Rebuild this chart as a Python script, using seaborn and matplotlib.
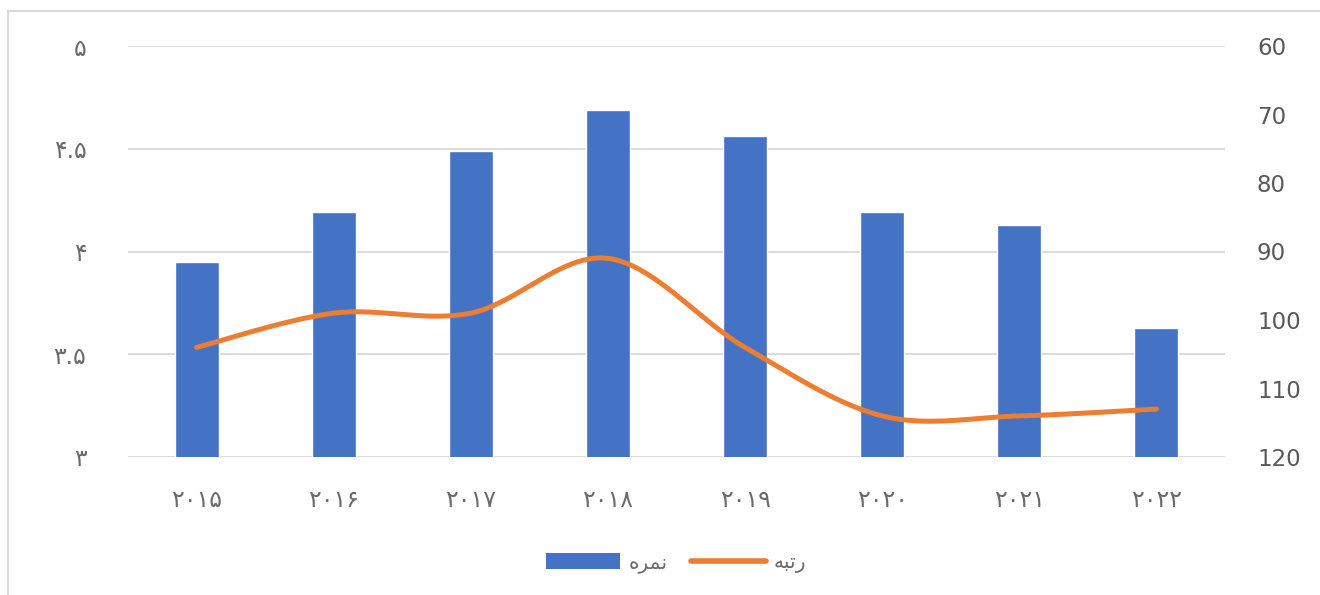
import numpy as np
import pandas as pd
import matplotlib
matplotlib.use("Agg")
import matplotlib.pyplot as plt
from matplotlib.patches import Rectangle, Patch
from matplotlib.lines import Line2D
import seaborn as sns

# ---- data ----
years = ["۲۰۱۵", "۲۰۱۶", "۲۰۱۷", "۲۰۱۸", "۲۰۱۹", "۲۰۲۰", "۲۰۲۱", "۲۰۲۲"]
score = [3.95, 4.19, 4.49, 4.69, 4.56, 4.19, 4.13, 3.63]
rank = [104, 99, 99, 91, 104, 114, 114, 113]

score_ticks = [3, 3.5, 4, 4.5, 5]
score_tick_labels = ["۳", "۳.۵", "۴", "۴.۵", "۵"]
rank_ticks = [60, 70, 80, 90, 100, 110, 120]
rank_tick_labels = ["60", "70", "80", "90", "100", "110", "120"]

# legend labels written in Arabic presentation forms (visual order)
label_score = "\uFEE9\uFEAE\uFEE4\uFEE7"   # نمره
label_rank = "\uFEEA\uFE92\uFE97\uFEAD"    # رتبه

BLUE = "#4472C4"
ORANGE = "#ED7D31"
GRID = "#D9D9D9"
TEXT = "#595959"
TEXT_LIGHT = "#6A6A6A"

sns.set_theme(style="white")
plt.rcParams["font.family"] = ["DejaVu Sans"]

W, H = 1320, 595
fig = plt.figure(figsize=(W / 100, H / 100), dpi=100)
ax = fig.add_axes([128 / W, 1 - 457 / H, (1225 - 128) / W, (457 - 46) / H])

df = pd.DataFrame({"year": years, "score": score})
sns.barplot(data=df, x="year", y="score", color=BLUE, saturation=1,
            width=0.32, errorbar=None, ax=ax, zorder=2)

ax.set_xlim(-0.5, len(years) - 0.5)
ax.set_ylim(score_ticks[0], score_ticks[-1])
ax.set_yticks(score_ticks)
ax.set_yticklabels(score_tick_labels)
ax.set_axisbelow(True)
ax.grid(axis="y", color=GRID, lw=1.3)
ax.grid(axis="x", visible=False)
ax.set_xlabel("")
ax.set_ylabel("")
for s in ax.spines.values():
    s.set_visible(False)
ax.tick_params(axis="y", length=0, pad=30, labelsize=17, labelcolor=TEXT_LIGHT)
ax.tick_params(axis="x", length=0, pad=22, labelsize=17, labelcolor=TEXT_LIGHT)


def smooth_curve(xs, ys, n=40):
    """Cubic Bezier smoothing through every point (Catmull-Rom style tangents)."""
    xs = np.asarray(xs, float)
    ys = np.asarray(ys, float)
    px = np.concatenate([[xs[0]], xs, [xs[-1]]])
    py = np.concatenate([[ys[0]], ys, [ys[-1]]])
    out_x, out_y = [], []
    t = np.linspace(0, 1, n)
    for i in range(1, len(px) - 2):
        p0 = np.array([px[i], py[i]])
        p3 = np.array([px[i + 1], py[i + 1]])
        c1 = p0 + (np.array([px[i + 1], py[i + 1]]) - np.array([px[i - 1], py[i - 1]])) / 6
        c2 = p3 - (np.array([px[i + 2], py[i + 2]]) - np.array([px[i], py[i]])) / 6
        b = ((1 - t) ** 3)[:, None] * p0 + (3 * (1 - t) ** 2 * t)[:, None] * c1 \
            + (3 * (1 - t) * t ** 2)[:, None] * c2 + (t ** 3)[:, None] * p3
        out_x.extend(b[:, 0])
        out_y.extend(b[:, 1])
    return np.array(out_x), np.array(out_y)


ax2 = ax.twinx()
sx, sy = smooth_curve(np.arange(len(years)), rank)
ax2.plot(sx, sy, color=ORANGE, lw=3.6, solid_capstyle="round", zorder=3)
ax2.set_ylim(rank_ticks[-1], rank_ticks[0])
ax2.set_yticks(rank_ticks)
ax2.set_yticklabels(rank_tick_labels)
ax2.tick_params(axis="y", length=0, pad=23, labelsize=16.5, labelcolor=TEXT)
ax2.grid(False)
for s in ax2.spines.values():
    s.set_visible(False)

handles = [Patch(facecolor=BLUE, edgecolor="none"),
           Line2D([0], [0], color=ORANGE, lw=4, solid_capstyle="round")]
leg = fig.legend(handles, [label_score, label_rank], loc="center",
                 bbox_to_anchor=(676 / W, 1 - 563 / H), ncol=2, frameon=False,
                 fontsize=14.5, handlelength=3.7, handleheight=0.8,
                 handletextpad=0.4, columnspacing=1.2)
for t in leg.get_texts():
    t.set_color(TEXT_LIGHT)

# outer chart border
fig.add_artist(Rectangle((8 / W, -0.1), 1.2, (H - 11) / H + 0.1,
                         transform=fig.transFigure, fill=False,
                         edgecolor=GRID, lw=1.5))

fig.savefig("out.png", dpi=100, facecolor="white")
